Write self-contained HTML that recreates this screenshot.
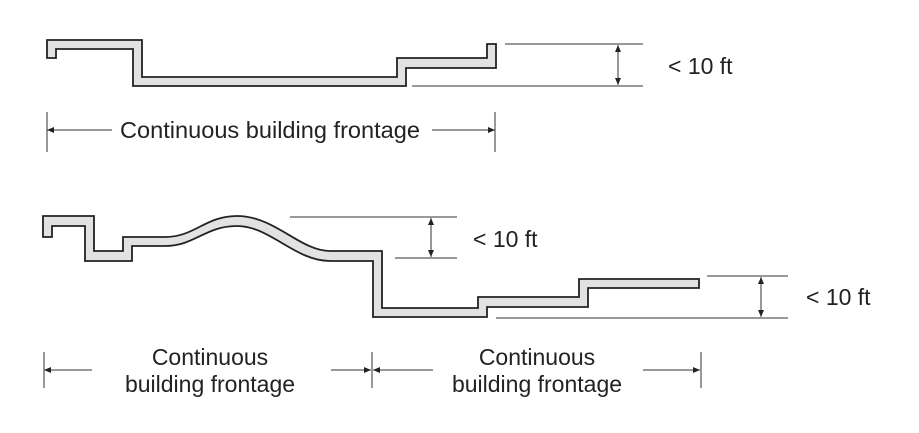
<!DOCTYPE html>
<html><head><meta charset="utf-8"><style>
html,body{margin:0;padding:0;background:#fff;}
svg{display:block;}
text{font-family:"Liberation Sans",sans-serif;fill:#222;}
</style></head><body>
<svg width="919" height="433" viewBox="0 0 919 433" xmlns="http://www.w3.org/2000/svg">
<defs>
<marker id="ah" markerWidth="8" markerHeight="8" refX="7" refY="4" orient="auto" markerUnits="userSpaceOnUse">
<path d="M0,1 L7,4 L0,7 Z" fill="#222"/>
</marker>
<marker id="as" markerWidth="8" markerHeight="8" refX="1" refY="4" orient="auto" markerUnits="userSpaceOnUse">
<path d="M8,1 L1,4 L8,7 Z" fill="#222"/>
</marker>
</defs>
<g fill="#e2e2e2" stroke="#222" stroke-width="1.8" stroke-linejoin="miter">
<path d="M47,40 H142 V77 H397 V58 H487 V44 H496 V68 H406 V86 H133 V49 H56 V58 H47 Z"/>
<path d="M43,216 H94 V251 H123 V237 H165 C195,237 205,216 237,216 C275,216 300,251 330,251 H382 V308 H478 V297 H579 V279 H699 V288 H588 V307 H487 V317 H373 V261 H330 C295,261 270,226 237,226 C205,226 195,246 165,246 H132 V261 H85 V226 H52 V237 H43 Z"/>
</g>
<g stroke="#333" stroke-width="1" fill="none">
<line x1="505" y1="44" x2="643" y2="44"/>
<line x1="412" y1="86" x2="643" y2="86"/>
<line x1="618" y1="45" x2="618" y2="85" marker-start="url(#as)" marker-end="url(#ah)"/>
<line x1="47" y1="112" x2="47" y2="152"/>
<line x1="495" y1="112" x2="495" y2="152"/>
<line x1="112" y1="130" x2="47" y2="130" marker-end="url(#ah)"/>
<line x1="432" y1="130" x2="495" y2="130" marker-end="url(#ah)"/>
<line x1="290" y1="217" x2="457" y2="217"/>
<line x1="395" y1="258" x2="457" y2="258"/>
<line x1="431" y1="218" x2="431" y2="257" marker-start="url(#as)" marker-end="url(#ah)"/>
<line x1="707" y1="276" x2="788" y2="276"/>
<line x1="496" y1="318" x2="788" y2="318"/>
<line x1="761" y1="277" x2="761" y2="317" marker-start="url(#as)" marker-end="url(#ah)"/>
<line x1="44" y1="352" x2="44" y2="388"/>
<line x1="372" y1="352" x2="372" y2="388"/>
<line x1="701" y1="352" x2="701" y2="388"/>
<line x1="92" y1="370" x2="44" y2="370" marker-end="url(#ah)"/>
<line x1="331" y1="370" x2="371" y2="370" marker-end="url(#ah)"/>
<line x1="433" y1="370" x2="373" y2="370" marker-end="url(#ah)"/>
<line x1="643" y1="370" x2="700" y2="370" marker-end="url(#ah)"/>
</g>
<g font-size="23">
<text x="668" y="74">&lt; 10 ft</text>
<text x="120" y="138" textLength="300" lengthAdjust="spacingAndGlyphs">Continuous building frontage</text>
<text x="473" y="247">&lt; 10 ft</text>
<text x="806" y="305">&lt; 10 ft</text>
<text x="210" y="365" text-anchor="middle">Continuous</text>
<text x="210" y="392" text-anchor="middle">building frontage</text>
<text x="537" y="365" text-anchor="middle">Continuous</text>
<text x="537" y="392" text-anchor="middle">building frontage</text>
</g>
</svg>
</body></html>
